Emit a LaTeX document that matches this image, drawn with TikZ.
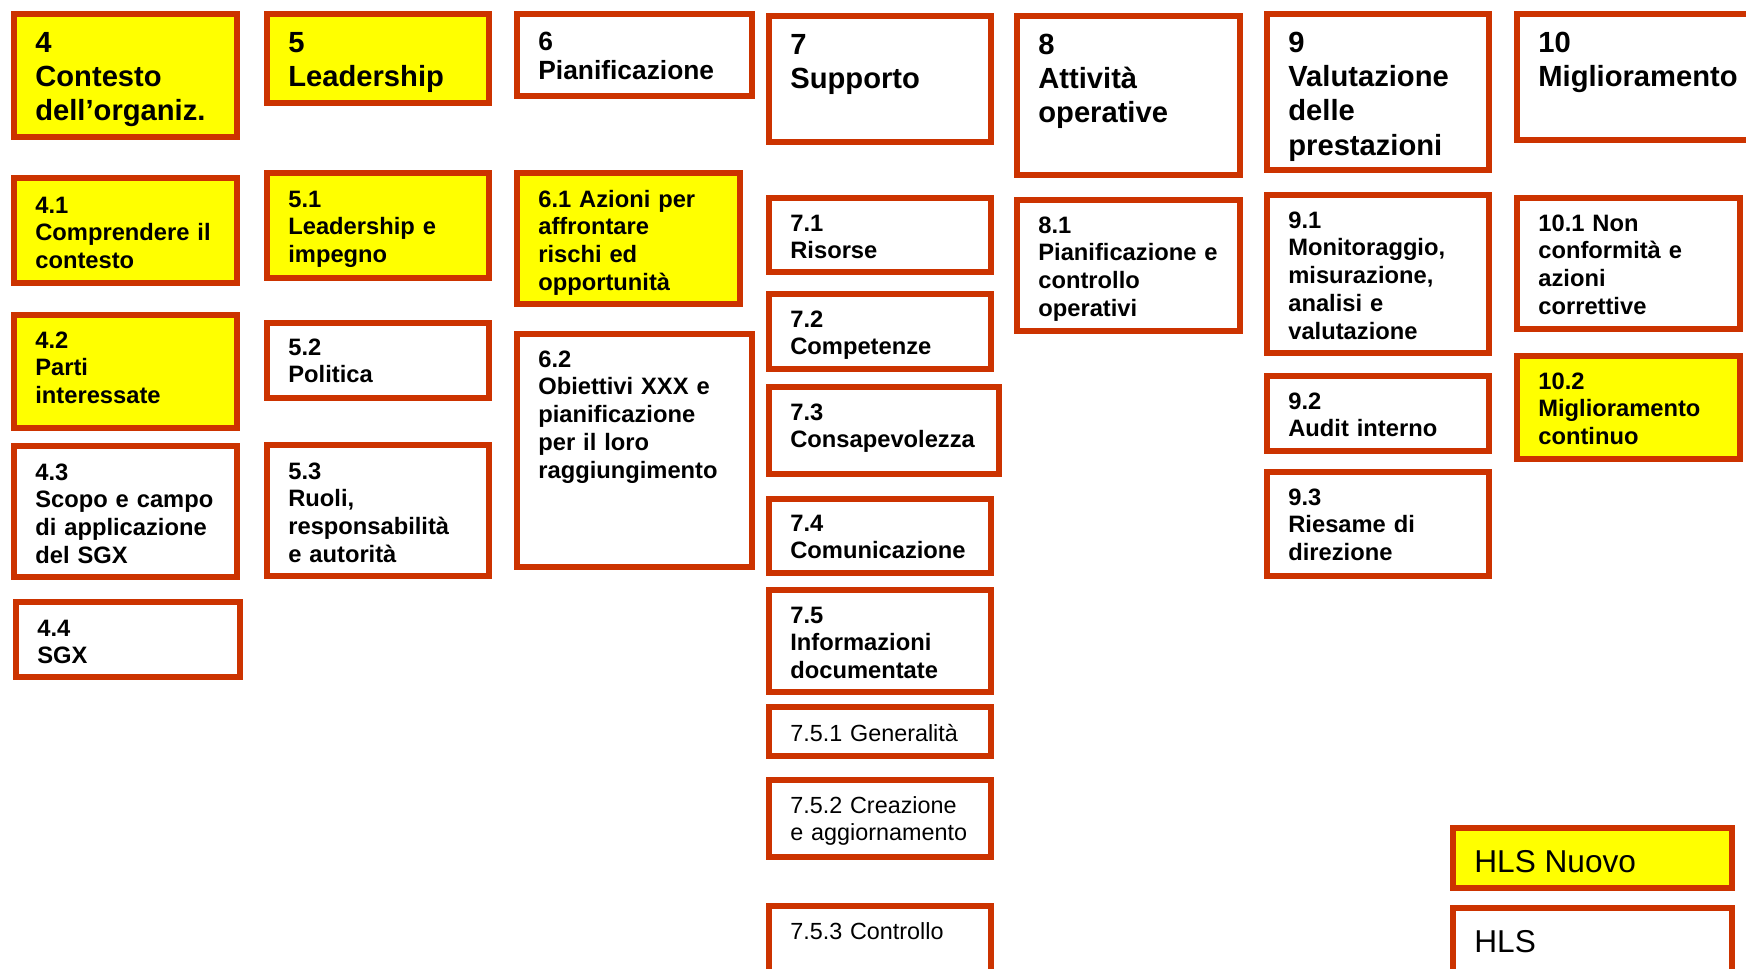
\documentclass[tikz,border=0pt]{standalone}
\usepackage{fontspec}
\setmainfont{Liberation Sans}
\definecolor{hlsred}{RGB}{204,51,0}
\definecolor{hlsyellow}{RGB}{255,255,0}

\begin{document}
\begin{tikzpicture}[x=0.02cm, y=-0.02cm,
    clause/.style={draw=hlsred, line width=3.2pt, fill=white},
    newclause/.style={clause, fill=hlsyellow},
    head/.style={anchor=base west, inner sep=0pt, text width=6cm, align=left,
      font=\bfseries\fontsize{16.6}{19.6}\selectfont},
    sub/.style={anchor=base west, inner sep=0pt, text width=6cm, align=left,
      font=\bfseries\fontsize{13.5}{15.8}\selectfont},
    plain/.style={sub, font=\fontsize{13.3}{15.8}\selectfont},
    legend/.style={anchor=base west, inner sep=0pt, font=\fontsize{18}{21}\selectfont}]

      \useasboundingbox (0,0) rectangle (1746,968);

      % column 4
      \draw[newclause] (14,14) rectangle (237,137);
      \node[head] (t4) at (35,52) {4\\Contesto\\dell’organiz.};
      \draw[newclause] (14,178) rectangle (237,283);
      \node[sub] (t41) at (35,213) {4.1\\Comprendere il\\contesto};
      \draw[newclause] (14,315) rectangle (237,428);
      \node[sub] (t42) at (35,348) {4.2\\Parti\\interessate};
      \draw[clause] (14,446) rectangle (237,577);
      \node[sub] (t43) at (35,480) {4.3\\Scopo e campo\\di applicazione\\del SGX};
      \draw[clause] (16,602) rectangle (240,677);
      \node[sub] (t44) at (37,636) {4.4\\SGX};

      % column 5
      \draw[newclause] (267,14) rectangle (489,103);
      \node[head] (t5) at (288,52) {5\\Leadership};
      \draw[newclause] (267,173) rectangle (489,278);
      \node[sub] (t51) at (288,207) {5.1\\Leadership e\\impegno};
      \draw[clause] (267,323) rectangle (489,398);
      \node[sub] (t52) at (288,355) {5.2\\Politica};
      \draw[clause] (267,445) rectangle (489,576);
      \node[sub] (t53) at (288,479) {5.3\\Ruoli,\\responsabilità\\e autorità};

      % column 6
      \draw[clause] (517,14) rectangle (752,96);
      \node[head, font=\bfseries\fontsize{15}{17}\selectfont] (t6) at (538,50) {6\\Pianificazione};
      \draw[newclause] (517,173) rectangle (740,304);
      \node[sub] (t61) at (538,207) {6.1 Azioni per\\affrontare\\rischi ed\\opportunità};
      \draw[clause] (517,334) rectangle (752,567);
      \node[sub] (t62) at (538,367) {6.2\\Obiettivi XXX e\\pianificazione\\per il loro\\raggiungimento};

      % column 7
      \draw[clause] (769,16) rectangle (991,142);
      \node[head] (t7) at (790,54) {7\\Supporto};
      \draw[clause] (769,198) rectangle (991,272);
      \node[sub] (t71) at (790,231) {7.1\\Risorse};
      \draw[clause] (769,294) rectangle (991,369);
      \node[sub] (t72) at (790,327) {7.2\\Competenze};
      \draw[clause] (769,387) rectangle (999,474);
      \node[sub] (t73) at (790,420) {7.3\\Consapevolezza};
      \draw[clause] (769,499) rectangle (991,573);
      \node[sub] (t74) at (790,531) {7.4\\Comunicazione};
      \draw[clause] (769,590) rectangle (991,692);
      \node[sub] (t75) at (790,623) {7.5\\Informazioni\\documentate};
      \draw[clause] (769,707) rectangle (991,756);
      \node[plain] (t751) at (790,741) {7.5.1 Generalità};
      \draw[clause] (769,780) rectangle (991,857);
      \node[plain] (t752) at (790,813) {7.5.2 Creazione\\e aggiornamento};
      \draw[clause] (769,906) rectangle (991,1000);
      \node[plain] (t753) at (790,939) {7.5.3 Controllo};

      % column 8
      \draw[clause] (1017,16) rectangle (1240,175);
      \node[head] (t8) at (1038,54) {8\\Attività\\operative};
      \draw[clause] (1017,200) rectangle (1240,331);
      \node[sub] (t81) at (1038,233) {8.1\\Pianificazione e\\controllo\\operativi};

      % column 9
      \draw[clause] (1267,14) rectangle (1489,170);
      \node[head] (t9) at (1288,52) {9\\Valutazione\\delle\\prestazioni};
      \draw[clause] (1267,195) rectangle (1489,353);
      \node[sub] (t91) at (1288,228) {9.1\\Monitoraggio,\\misurazione,\\analisi e\\valutazione};
      \draw[clause] (1267,376) rectangle (1489,451);
      \node[sub] (t92) at (1288,409) {9.2\\Audit interno};
      \draw[clause] (1267,472) rectangle (1489,576);
      \node[sub] (t93) at (1288,505) {9.3\\Riesame di\\direzione};

      % column 10
      \draw[clause] (1517,14) rectangle (1770,140);
      \node[head] (t10) at (1538,52) {10\\Miglioramento};
      \draw[clause] (1517,198) rectangle (1740,329);
      \node[sub] (t101) at (1538,231) {10.1 Non\\conformità e\\azioni\\correttive};
      \draw[newclause] (1517,356) rectangle (1740,459);
      \node[sub] (t102) at (1538,389) {10.2\\Miglioramento\\continuo};

      % legenda
      \draw[newclause] (1453,828) rectangle (1732,888);
      \node[legend] (lnew) at (1474,872) {HLS Nuovo};
      \draw[clause] (1453,908) rectangle (1732,1000);
      \node[legend] (lold) at (1474,952) {HLS};
\end{tikzpicture}
\end{document}
